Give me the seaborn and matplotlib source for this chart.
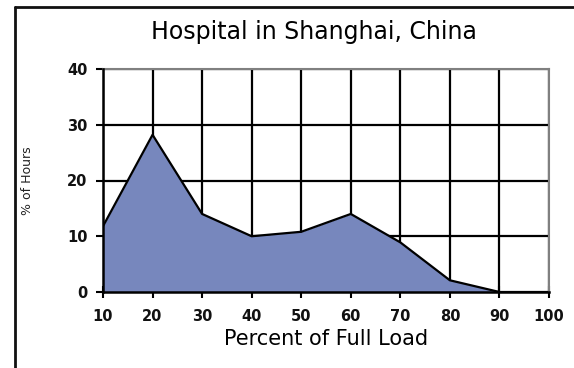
"""Load profile area chart: Hospital in Shanghai, China."""

import matplotlib
matplotlib.use("Agg")
import matplotlib.pyplot as plt
import seaborn as sns
import pandas as pd
from matplotlib.lines import Line2D

# chart data
load_pct = [10, 20, 30, 40, 50, 60, 70, 80, 90]
hours_pct = [11.8, 28.2, 14.0, 10.0, 10.8, 14.0, 8.9, 2.1, 0.0]
x_ticks = [10, 20, 30, 40, 50, 60, 70, 80, 90, 100]
y_ticks = [0, 10, 20, 30, 40]

FILL = "#7787bd"

sns.set_theme(style="white")
plt.rcParams["font.family"] = ["DejaVu Sans"]

df = pd.DataFrame({"load": load_pct, "hours": hours_pct})

fig = plt.figure(figsize=(5.74, 3.68), dpi=100)
ax = fig.add_axes([103 / 574, 1 - 292 / 368, (549 - 103) / 574, (292 - 69) / 368])

ax.fill_between(df["load"], df["hours"], 0, color=FILL, linewidth=0, zorder=2)
sns.lineplot(data=df, x="load", y="hours", color="black", linewidth=1.6, ax=ax, zorder=3)

ax.set_xlim(10, 100)
ax.set_ylim(0, 40)
ax.set_xticks(x_ticks)
ax.set_yticks(y_ticks)
ax.grid(True, color="black", linewidth=1.6, zorder=1)
ax.set_axisbelow(True)

for side in ["left", "bottom"]:
    ax.spines[side].set_color("black")
    ax.spines[side].set_linewidth(1.8)
    ax.spines[side].set_zorder(4)
for side in ["top", "right"]:
    ax.spines[side].set_color("#808080")
    ax.spines[side].set_linewidth(1.5)

ax.tick_params(axis="x", direction="inout", length=8, width=1.5, color="black",
               labelsize=10.5, pad=8, bottom=True)
ax.tick_params(axis="y", direction="out", length=5, width=1.5, color="black",
               labelsize=10.5, pad=6, left=True)
for lbl in ax.get_xticklabels() + ax.get_yticklabels():
    lbl.set_fontweight("bold")
    lbl.set_color("#111111")

ax.set_xlabel("Percent of Full Load", fontsize=15, labelpad=4, color="black")
ax.set_ylabel("% of Hours", fontsize=9, labelpad=24, color="#222222")

fig.text(314 / 574, 1 - 32 / 368, "Hospital in Shanghai, China", fontsize=17,
         ha="center", va="center", color="black")

# outer frame (left and top edges of the chart box)
fig.add_artist(Line2D([14.5 / 574, 14.5 / 574], [0, 1 - 6.5 / 368],
                      transform=fig.transFigure, color="#111111", linewidth=2))
fig.add_artist(Line2D([14.5 / 574, 1], [1 - 6.5 / 368, 1 - 6.5 / 368],
                      transform=fig.transFigure, color="#111111", linewidth=2))

fig.savefig("out.png", dpi=100, facecolor="white")
